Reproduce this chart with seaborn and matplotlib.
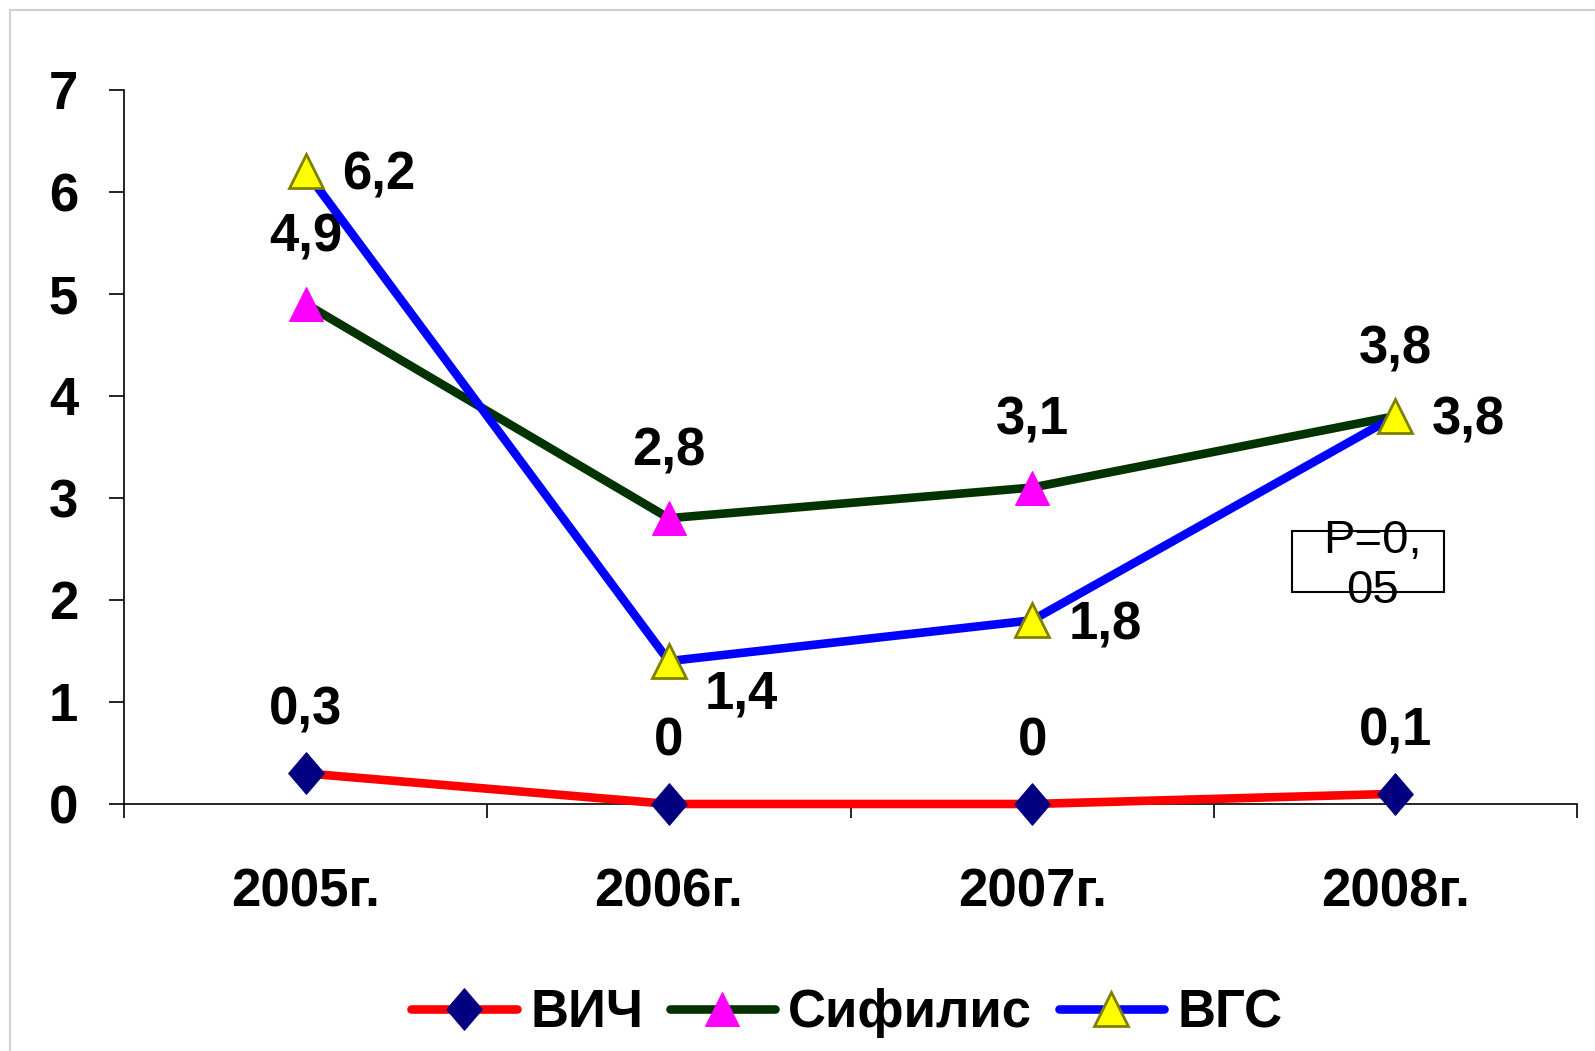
import pandas as pd
import matplotlib
matplotlib.use("Agg")
import matplotlib.pyplot as plt
import seaborn as sns
from matplotlib.patches import Rectangle

years = ["2005г.", "2006г.", "2007г.", "2008г."]
hiv = [0.3, 0, 0, 0.1]
syph = [4.9, 2.8, 3.1, 3.8]
hcv = [6.2, 1.4, 1.8, 3.8]
hiv_labels = ["0,3", "0", "0", "0,1"]
syph_labels = ["4,9", "2,8", "3,1", "3,8"]
hcv_labels = ["6,2", "1,4", "1,8", "3,8"]

sns.set_style("white")
plt.rcParams['font.family'] = ['Liberation Sans', 'DejaVu Sans']
plt.rcParams['text.color'] = 'black'
plt.rcParams['xtick.color'] = 'black'
plt.rcParams['ytick.color'] = 'black'

fig = plt.figure(figsize=(15.95, 10.51), dpi=100)
ax = fig.add_axes([124 / 1595, 1 - 804 / 1051, (1577 - 124) / 1595, (804 - 89.5) / 1051])

# faint frame of the slide
fig.patches.append(Rectangle((10 / 1595, -0.1), 1.2, 1 - 10 / 1051 + 0.1, transform=fig.transFigure,
                             fill=False, edgecolor='#d0d0d0', linewidth=1.5))

df = pd.DataFrame({"year": years, "ВИЧ": hiv, "Сифилис": syph, "ВГС": hcv})

diamond = [(0, 1.17), (1, 0), (0, -1.17), (-1, 0), (0, 1.17)]
sns.lineplot(data=df, x="year", y="ВИЧ", ax=ax, color='#ff0000', lw=6.2, marker=diamond,
             markersize=30, markerfacecolor='#000080', markeredgecolor='#000080', label="ВИЧ", zorder=3)
sns.lineplot(data=df, x="year", y="Сифилис", ax=ax, color='#003300', lw=6.2, marker='^',
             markersize=25, markerfacecolor='#ff00ff', markeredgecolor='#ff00ff', label="Сифилис", zorder=4)
sns.lineplot(data=df, x="year", y="ВГС", ax=ax, color='#0000ff', lw=6.2, marker='^',
             markersize=24, markerfacecolor='#ffff00', markeredgecolor='#808000', markeredgewidth=2,
             label="ВГС", zorder=5)
for ln in ax.lines:
    ln.set_clip_on(False)

fs = 38
for i, (v, t) in enumerate(zip(hiv, hiv_labels)):
    ax.annotate(t, (i, v), xytext=(0, 45), textcoords='offset points', ha='center', va='center',
                fontsize=fs, fontweight='bold')
for i, (v, t) in enumerate(zip(syph, syph_labels)):
    ax.annotate(t, (i, v), xytext=(0, 48), textcoords='offset points', ha='center', va='center',
                fontsize=fs, fontweight='bold')
hcv_off = [(26, -3), (26, -24), (26, -4), (26, -3)]
for i, (v, t) in enumerate(zip(hcv, hcv_labels)):
    ax.annotate(t, (i, v), xytext=hcv_off[i], textcoords='offset points', ha='left', va='center',
                fontsize=fs, fontweight='bold')

ax.set_xlim(-0.5, 3.5)
ax.set_ylim(0, 7)
ax.set_yticks(range(0, 8))
ax.set_xticks([-0.5, 0.5, 1.5, 2.5, 3.5], minor=False)
ax.set_xticklabels([])
ax.set_xticks([0, 1, 2, 3], minor=True)
ax.set_xticklabels(years, minor=True)
ax.tick_params(axis='x', which='major', bottom=True, direction='out', length=10, width=1.2, color='black')
ax.tick_params(axis='x', which='minor', bottom=True, length=0, pad=46, labelsize=fs)
ax.tick_params(axis='y', left=True, direction='out', length=11, width=1.2, color='black', pad=22,
               labelsize=fs)
for lab in ax.get_xticklabels(minor=True) + ax.get_yticklabels():
    lab.set_fontweight('bold')
ax.set_xlabel("")
ax.set_ylabel("")
for s in ['top', 'right']:
    ax.spines[s].set_visible(False)
for s in ['left', 'bottom']:
    ax.spines[s].set_color('black')
    ax.spines[s].set_linewidth(1.2)

# P-value box
fig.patches.append(Rectangle((1292 / 1595, 1 - 592 / 1051), 152 / 1595, 61 / 1051,
                             transform=fig.transFigure, fill=False, edgecolor='black', linewidth=1.5))
fig.text(1372 / 1595, 1 - 566 / 1051, "P=0,\n05", ha='center', va='center', fontsize=34,
         linespacing=1.2)

leg = ax.legend(loc='center', bbox_to_anchor=(0.531, 1 - 1013 / 1051), bbox_transform=fig.transFigure,
                ncol=3, frameon=False, handlelength=2.0, handletextpad=0.25, columnspacing=0.5,
                prop={'size': fs, 'weight': 'bold'})

fig.savefig("out.png", dpi=100)
